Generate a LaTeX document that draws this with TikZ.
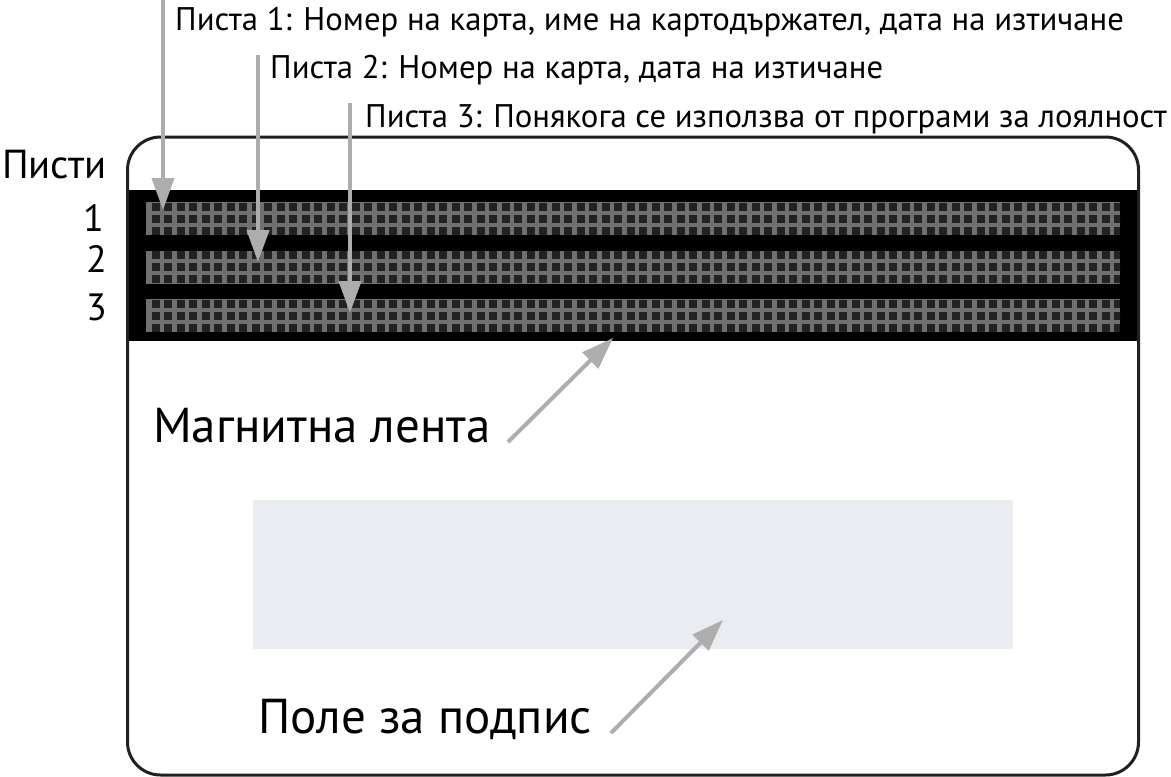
\documentclass[tikz,border=0pt]{standalone}
\usepackage{fontspec}
\setmainfont{PT Sans}
\usetikzlibrary{arrows.meta}
\definecolor{cardline}{HTML}{231F20}
\definecolor{arrowgray}{HTML}{ADADAD}
\definecolor{trackgray}{HTML}{707070}
\definecolor{trackdark}{HTML}{222222}
\definecolor{sigpanel}{HTML}{E9EDF1}
\begin{document}
\begin{tikzpicture}[x=1pt,y=-1pt,
  callout/.style={draw=arrowgray, line width=4pt, -{Triangle[width=22pt,length=32pt]}},
  toplabel/.style={anchor=base west, inner sep=0pt, font=\fontsize{32.7}{36}\selectfont},
  tracknum/.style={anchor=base east, inner sep=0pt, font=\fontsize{38}{42}\selectfont},
  biglabel/.style={anchor=base west, inner sep=0pt, font=\fontsize{49}{52}\selectfont}]
\useasboundingbox (0,0) rectangle (1171,777);
% card background and stripe
\fill[white] (127.5,137) rectangle (1138.5,775);
\fill[black] (127.5,190) rectangle (1138.5,341);
% tracks
\foreach \yo in {202,250.5,299}{
  \fill[trackgray] (146,\yo) rectangle (1120,\yo+33);
  \begin{scope}
    \clip (146,\yo) rectangle (1120,\yo+33);
    \foreach \i in {0,...,77}{
      \foreach \r in {0,1,2}{
        \fill[trackdark] (151.5+12.5*\i,\yo+0.7+12*\r) rectangle +(8,8);
      }
    }
  \end{scope}
}
% signature panel
\fill[sigpanel] (253,500) rectangle (1013,649);
% card outline
\draw[cardline, line width=3pt, rounded corners=33pt] (127.5,137) rectangle (1138.5,775);
% top labels
\node[toplabel] (t1) at (175,30) {Писта 1: Номер на карта, име на картодържател, дата на изтичане};
\node[toplabel] (t2) at (270,78) {Писта 2: Номер на карта, дата на изтичане};
\node[toplabel] (t3) at (365,127) {Писта 3: Понякога се използва от програми за лоялност};
% track labels
\node[tracknum, font=\fontsize{40.5}{44}\selectfont] (tl) at (107,178) {Писти};
\node[tracknum] (n1) at (104,231) {1};
\node[tracknum] (n2) at (107,272) {2};
\node[tracknum] (n3) at (107,320) {3};
% big labels
\node[biglabel] (mag) at (153,442) {Магнитна лента};
\node[biglabel] (sig) at (258,733) {Поле за подпис};
% arrow coordinates
\coordinate (a1s) at (163,-2);
\coordinate (a1e) at (163,210);
\coordinate (a2s) at (258,55);
\coordinate (a2e) at (258,262);
\coordinate (a3s) at (350,103);
\coordinate (a3e) at (350,313);
\coordinate (m1) at (508,442);
\coordinate (m2) at (613,338);
\coordinate (s1) at (611,733);
\coordinate (s2) at (723,620);
\draw[callout] (a1s) -- (a1e);
\draw[callout] (a2s) -- (a2e);
\draw[callout] (a3s) -- (a3e);
\draw[callout] (m1) -- (m2);
\draw[callout] (s1) -- (s2);
\end{tikzpicture}
\end{document}
